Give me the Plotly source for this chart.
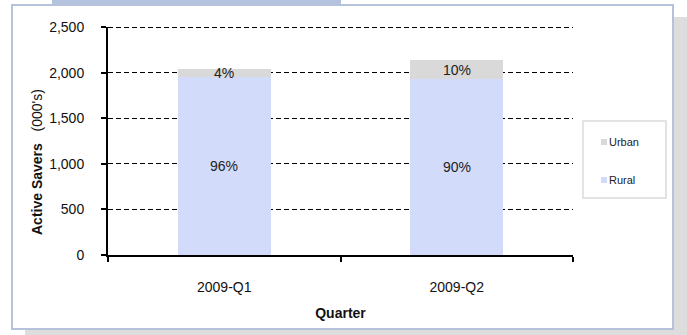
import plotly.graph_objects as go

# Quarterly active savers (thousands) split by location
quarters = ["2009-Q1", "2009-Q2"]
totals = [2035, 2140]
rural_pct = [96, 90]
urban_pct = [4, 10]
y_ticks = [0, 500, 1000, 1500, 2000, 2500]
y_tick_labels = ["0", "500", "1,000", "1,500", "2,000", "2,500"]
y_max = 2500

RURAL_COLOR = "#D3DBFB"
URBAN_COLOR = "#D9D9D9"
FRAME_COLOR = "#B4C2DE"
FONT = "Liberation Sans, Arial, sans-serif"
GRID_DASH = "5px,3px"

rural = [t * p / 100 for t, p in zip(totals, rural_pct)]
urban = [t * p / 100 for t, p in zip(totals, urban_pct)]

W, H = 687, 335
L, R, T, B = 108, 573, 27, 255


def px(x):
    return (x - L) / (R - L)


def py(y):
    return (B - y) / (B - T)


fig = go.Figure()
fig.add_trace(go.Bar(x=quarters, y=rural, name="Rural", marker_color=RURAL_COLOR,
                     marker_line_width=0, showlegend=False))
fig.add_trace(go.Bar(x=quarters, y=urban, name="Urban", marker_color=URBAN_COLOR,
                     marker_line_width=0, showlegend=False))

annotations = []
# percentage labels centred in each segment
for q, r, u, rp, up in zip(quarters, rural, urban, rural_pct, urban_pct):
    annotations.append(dict(x=q, y=r / 2, xref="x", yref="y", text=f"{rp}%",
                            showarrow=False, font=dict(size=14, color="#222222")))
    annotations.append(dict(x=q, y=r + u / 2, xref="x", yref="y", text=f"{up}%",
                            showarrow=False, font=dict(size=14, color="#222222")))

# y axis title
annotations.append(dict(x=px(37), y=py(162), xref="paper", yref="paper",
                        xanchor="center", yanchor="middle",
                        text="<b>Active Savers</b>   (000's)", textangle=-90,
                        showarrow=False, font=dict(size=14, color="#111111")))

shapes = [
    # drop shadow behind the frame
    dict(type="rect", xref="paper", yref="paper", x0=px(25), x1=px(687), y0=py(17), y1=py(335),
         fillcolor="#DDDDDD", line_width=0, layer="below"),
    # frame
    dict(type="rect", xref="paper", yref="paper", x0=px(12), x1=px(673), y0=py(5), y1=py(329),
         fillcolor="white", line=dict(color=FRAME_COLOR, width=2), layer="below"),
    # header tab
    dict(type="rect", xref="paper", yref="paper", x0=px(52), x1=px(341), y0=py(0), y1=py(6),
         fillcolor=FRAME_COLOR, line_width=0, layer="below"),
    # top gridline (the axis grid is clipped at the range edge); nudged half a pixel to stay crisp
    dict(type="line", xref="paper", yref="paper", x0=0, x1=1, y0=py(27.5), y1=py(27.5),
         line=dict(color="black", width=1, dash=GRID_DASH), layer="below"),
    # legend box
    dict(type="rect", xref="paper", yref="paper", x0=px(583), x1=px(666), y0=py(121), y1=py(198),
         fillcolor="white", line=dict(color="#DADADA", width=1.5), layer="below"),
]

# legend entries
for name, color, yc in [("Urban", URBAN_COLOR, 142), ("Rural", RURAL_COLOR, 180)]:
    shapes.append(dict(type="rect", xref="paper", yref="paper", x0=px(601), x1=px(607),
                       y0=py(yc - 3), y1=py(yc + 3), fillcolor=color, line_width=0))
    annotations.append(dict(x=px(607), y=py(yc), xref="paper", yref="paper", text=name,
                            xanchor="left", yanchor="middle", showarrow=False,
                            font=dict(size=11, color="#222222")))

fig.update_layout(
    width=W, height=H,
    margin=dict(l=L, r=W - R, t=T, b=H - B),
    barmode="stack", bargap=0.6,
    paper_bgcolor="white", plot_bgcolor="rgba(0,0,0,0)",
    font=dict(family=FONT, size=14, color="#111111"),
    showlegend=False,
    shapes=shapes, annotations=annotations,
    xaxis=dict(
        showline=True, linecolor="black", linewidth=2,
        ticks="outside", ticklen=5, tickwidth=1.5, tickcolor="black",
        tickson="boundaries", ticklabelstandoff=18,
        showgrid=False, zeroline=False,
        tickfont=dict(size=14),
        title=dict(text="<b>Quarter</b>", font=dict(size=14), standoff=14),
    ),
    yaxis=dict(
        range=[0, y_max], tickvals=y_ticks, ticktext=y_tick_labels,
        showline=True, linecolor="black", linewidth=2,
        ticks="outside", ticklen=5, tickwidth=1.5, tickcolor="black",
        ticklabelstandoff=14,
        showgrid=True, gridcolor="black", gridwidth=1, griddash=GRID_DASH,
        zeroline=False, tickfont=dict(size=14),
    ),
)

fig.write_html("out.html")
